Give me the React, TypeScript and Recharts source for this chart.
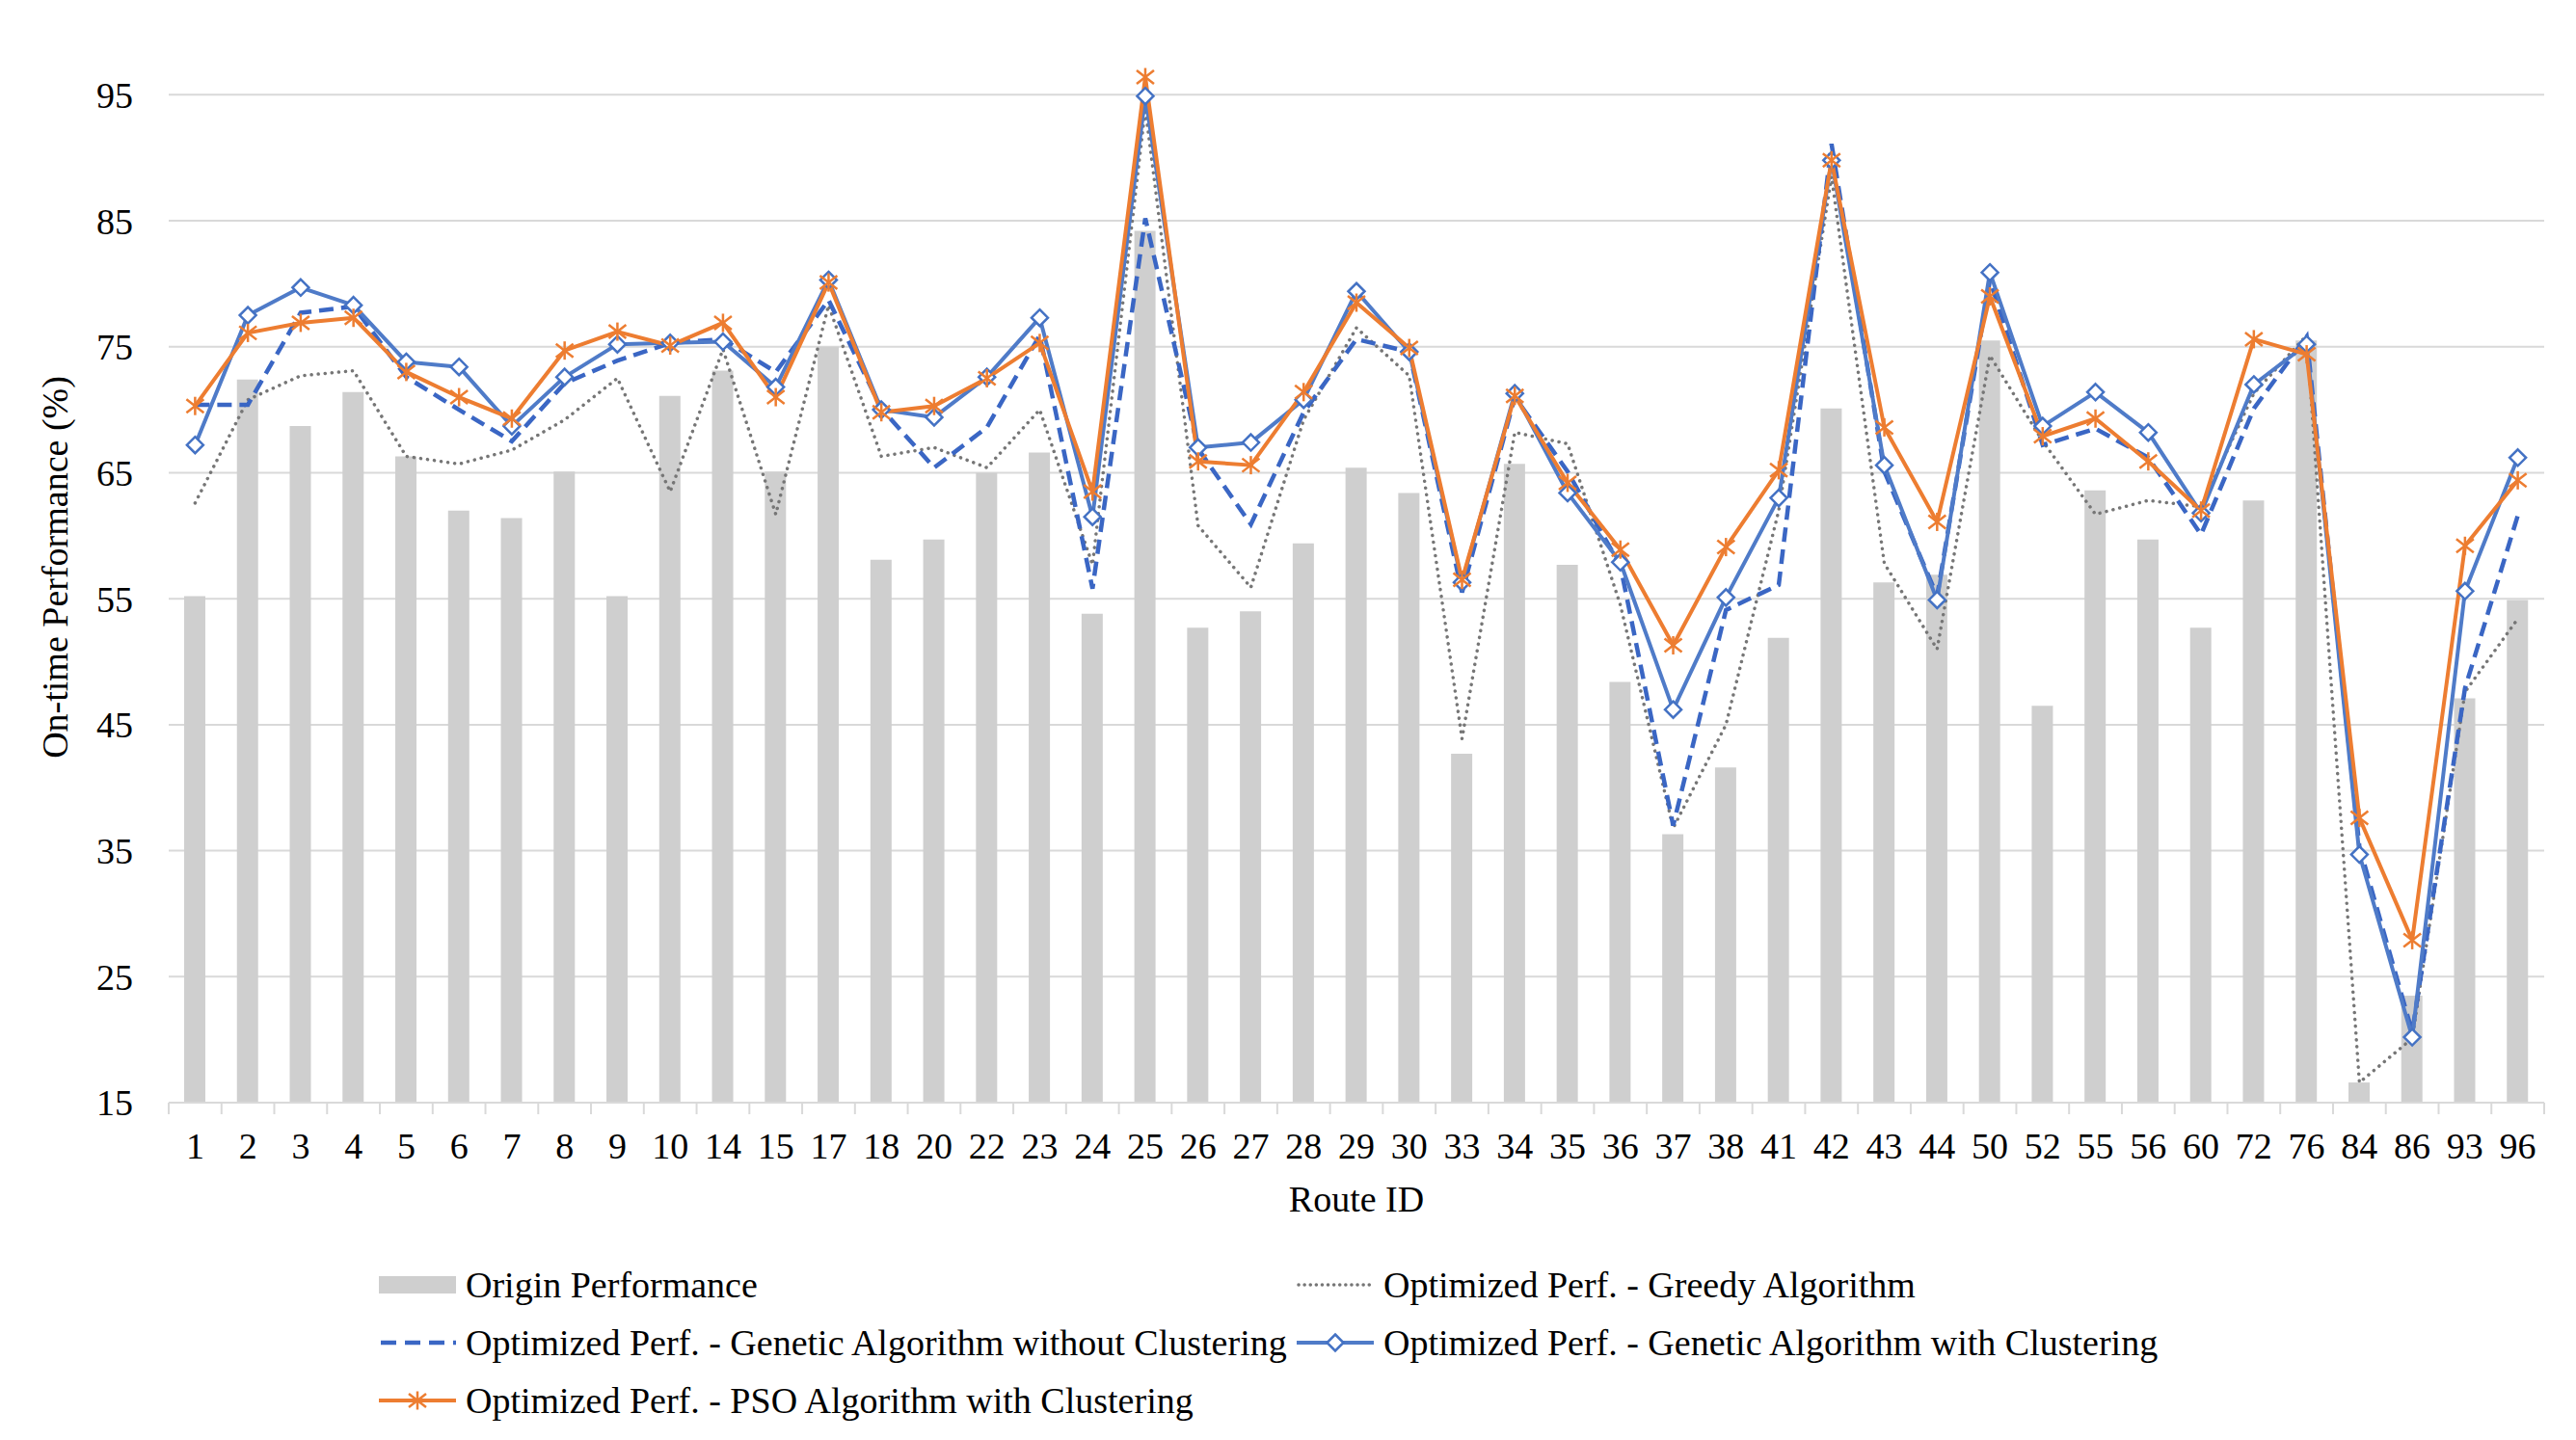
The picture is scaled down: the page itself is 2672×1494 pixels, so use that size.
import React from "react";
import {
  ComposedChart,
  Bar,
  Line,
  XAxis,
  YAxis,
  CartesianGrid,
  Legend,
} from "recharts";

const routes = [
  "1", "2", "3", "4", "5", "6", "7", "8", "9", "10", "14", "15", "17", "18", "20",
  "22", "23", "24", "25", "26", "27", "28", "29", "30", "33", "34", "35", "36", "37", "38",
  "41", "42", "43", "44", "50", "52", "55", "56", "60", "72", "76", "84", "86", "93", "96",
];

const originPerf = [
  55.2, 72.4, 68.7, 71.4, 66.3, 62.0, 61.4, 65.1, 55.2, 71.1, 73.1, 65.1, 75.0, 58.1, 59.7,
  65.0, 66.6, 53.8, 84.2, 52.7, 54.0, 59.4, 65.4, 63.4, 42.7, 65.7, 57.7, 48.4, 36.3, 41.6,
  51.9, 70.1, 56.3, 56.9, 75.5, 46.5, 63.6, 59.7, 52.7, 62.8, 75.5, 16.6, 23.5, 47.1, 54.9,
];

const greedy = [
  62.6, 70.8, 72.7, 73.1, 66.3, 65.7, 66.8, 69.2, 72.5, 63.5, 74.8, 61.7, 78.3, 66.3, 67.0,
  65.4, 70.0, 57.7, 93.9, 60.8, 55.9, 69.2, 76.5, 72.7, 43.9, 68.2, 67.3, 54.5, 36.8, 45.0,
  62.0, 88.5, 57.8, 51.0, 74.3, 67.5, 61.7, 62.8, 62.3, 71.3, 75.9, 16.6, 20.1, 47.6, 53.4,
];

const gaNoCluster = [
  70.4, 70.4, 77.7, 78.2, 72.6, 70.0, 67.5, 72.1, 73.9, 75.3, 75.6, 73.0, 78.7, 70.1, 65.4,
  68.6, 75.9, 55.8, 85.2, 66.9, 60.9, 69.8, 75.6, 74.6, 55.5, 71.0, 65.1, 57.6, 37.0, 54.1,
  56.1, 91.1, 65.1, 55.2, 80.3, 67.2, 68.5, 66.2, 60.1, 70.1, 75.8, 35.3, 20.6, 47.9, 61.6,
];

const gaCluster = [
  67.2, 77.5, 79.7, 78.3, 73.8, 73.4, 68.7, 72.6, 75.2, 75.3, 75.4, 71.8, 80.3, 70.0, 69.4,
  72.6, 77.3, 61.5, 94.9, 67.0, 67.4, 70.8, 79.4, 74.6, 56.3, 71.3, 63.4, 57.9, 46.2, 55.1,
  63.0, 89.8, 65.6, 54.9, 80.9, 68.7, 71.4, 68.2, 61.8, 72.0, 75.2, 34.7, 20.2, 55.6, 66.2,
];

const psoCluster = [
  70.3, 76.1, 76.9, 77.3, 73.0, 71.0, 69.3, 74.7, 76.2, 75.1, 76.9, 71.0, 80.1, 69.8, 70.3,
  72.5, 75.3, 63.5, 96.4, 65.9, 65.6, 71.4, 78.5, 74.9, 56.5, 71.1, 64.2, 58.9, 51.3, 59.1,
  65.2, 89.8, 68.6, 61.1, 79.0, 67.9, 69.3, 65.9, 62.0, 75.6, 74.4, 37.6, 27.9, 59.2, 64.4,
];

const yTicks = [15, 25, 35, 45, 55, 65, 75, 85, 95];

const SERIES = [
  { key: "origin", name: "Origin Performance" },
  { key: "greedy", name: "Optimized Perf. - Greedy Algorithm" },
  { key: "gaNo", name: "Optimized Perf. - Genetic Algorithm without Clustering" },
  { key: "ga", name: "Optimized Perf. - Genetic Algorithm with Clustering" },
  { key: "pso", name: "Optimized Perf. - PSO Algorithm with Clustering" },
];

const data = routes.map((route, i) => ({
  route,
  origin: originPerf[i],
  greedy: greedy[i],
  gaNo: gaNoCluster[i],
  ga: gaCluster[i],
  pso: psoCluster[i],
}));

const W = 2672;
const H = 1494;
const MARGIN = { top: 33, right: 33, bottom: 230, left: 45 };
const Y_AXIS_W = 130;
const X_AXIS_H = 120;
const BAND = (W - MARGIN.left - Y_AXIS_W - MARGIN.right) / routes.length;

const FONT = "'Liberation Serif', 'Times New Roman', 'DejaVu Serif', serif";
const FS = 38;
const GRID = "#d9d9d9";
const BAR = "#cfcfcf";
const GRAY = "#767676";
const BLUE_DASH = "#3a66c4";
const BLUE = "#4f7bc8";
const ORANGE = "#ed7d31";

function diamondShape(cx: number, cy: number, key?: string) {
  const r = 8.5;
  return (
    <path
      key={key}
      d={`M${cx},${cy - r}L${cx + r},${cy}L${cx},${cy + r}L${cx - r},${cy}Z`}
      fill="#fff"
      stroke="#4472c4"
      strokeWidth={2.5}
    />
  );
}

function starShape(cx: number, cy: number, key?: string) {
  return (
    <g key={key} stroke={ORANGE} strokeWidth={2.5}>
      <line x1={cx} y1={cy - 9.5} x2={cx} y2={cy + 9.5} />
      <line x1={cx - 9} y1={cy - 7} x2={cx + 9} y2={cy + 7} />
      <line x1={cx - 9} y1={cy + 7} x2={cx + 9} y2={cy - 7} />
    </g>
  );
}

const renderDiamond = (p: any) =>
  p.cx == null ? null : diamondShape(p.cx, p.cy, `dia-${p.index}`);
const renderStar = (p: any) =>
  p.cx == null ? null : starShape(p.cx, p.cy, `star-${p.index}`);

// category labels centred, tick marks on the category boundaries (excel style)
function RouteTick(props: any) {
  const { x, y, payload, index } = props;
  const left = x - BAND / 2;
  const right = x + BAND / 2;
  return (
    <g>
      <line x1={left} y1={y} x2={left} y2={y + 12} stroke={GRID} strokeWidth={2} />
      {index === routes.length - 1 && (
        <line x1={right} y1={y} x2={right} y2={y + 12} stroke={GRID} strokeWidth={2} />
      )}
      <text x={x} y={y + 58} textAnchor="middle" fontSize={FS} fontFamily={FONT} fill="#000">
        {payload.value}
      </text>
    </g>
  );
}

function Swatch({ kind }: { kind: string }) {
  return (
    <svg width={80} height={30} style={{ display: "block", flex: "none" }}>
      {kind === "origin" && <rect x={0} y={6} width={80} height={18} fill={BAR} />}
      {kind === "greedy" && (
        <line x1={2} y1={15} x2={78} y2={15} stroke={GRAY} strokeWidth={3.5}
          strokeDasharray="0.1 6" strokeLinecap="round" />
      )}
      {kind === "gaNo" && (
        <line x1={2} y1={15} x2={80} y2={15} stroke={BLUE_DASH} strokeWidth={4.5}
          strokeDasharray="16 9" />
      )}
      {kind === "ga" && (
        <>
          <line x1={0} y1={15} x2={80} y2={15} stroke={BLUE} strokeWidth={4} />
          {diamondShape(40, 15)}
        </>
      )}
      {kind === "pso" && (
        <>
          <line x1={0} y1={15} x2={80} y2={15} stroke={ORANGE} strokeWidth={4} />
          {starShape(40, 15)}
        </>
      )}
    </svg>
  );
}

function renderLegend() {
  return (
    <div style={{ position: "relative", width: W, height: 180, fontFamily: FONT, fontSize: FS, color: "#000" }}>
      {SERIES.map((s, i) => (
        <div
          key={s.key}
          style={{
            position: "absolute",
            left: i % 2 ? 1345 : 393,
            top: Math.floor(i / 2) * 60,
            height: 60,
            display: "flex",
            alignItems: "center",
            whiteSpace: "nowrap",
            lineHeight: 1,
          }}
        >
          <Swatch kind={s.key} />
          <span style={{ marginLeft: 10 }}>{s.name}</span>
        </div>
      ))}
    </div>
  );
}

export default function App() {
  return (
    <div style={{ width: W, height: H, background: "#fff" }}>
      <style>{"body{margin:0;overflow:hidden;background:#fff}"}</style>
      <ComposedChart width={W} height={H} data={data} margin={MARGIN}>
        <CartesianGrid
          vertical={false}
          horizontalValues={yTicks}
          syncWithTicks
          stroke={GRID}
          strokeWidth={2}
        />
        <XAxis
          dataKey="route"
          interval={0}
          height={X_AXIS_H}
          tickLine={false}
          tickSize={0}
          tickMargin={0}
          axisLine={{ stroke: GRID, strokeWidth: 2 }}
          tick={<RouteTick />}
          label={{
            value: "Route ID",
            position: "insideBottom",
            offset: 7,
            style: { fontSize: FS, fontFamily: FONT, fill: "#000" },
          }}
        />
        <YAxis
          domain={[15, 100]}
          ticks={yTicks}
          width={Y_AXIS_W}
          axisLine={false}
          tickLine={false}
          tickSize={0}
          tickMargin={37}
          tick={{ fontSize: FS, fontFamily: FONT, fill: "#000" }}
          label={{
            value: "On-time Performance (%)",
            angle: -90,
            position: "insideLeft",
            offset: 12,
            style: { textAnchor: "middle", fontSize: FS, fontFamily: FONT, fill: "#000" },
          }}
        />
        <Legend
          content={renderLegend}
          layout="horizontal"
          verticalAlign="middle"
          align="center"
          wrapperStyle={{ left: 0, top: 1303, width: W, height: 180 }}
        />
        <Bar dataKey="origin" name={SERIES[0].name} fill={BAR} barSize={22} isAnimationActive={false} />
        <Line
          dataKey="greedy"
          name={SERIES[1].name}
          type="linear"
          stroke={GRAY}
          strokeWidth={3.5}
          strokeDasharray="0.1 7"
          strokeLinecap="round"
          strokeLinejoin="round"
          dot={false}
          activeDot={false}
          isAnimationActive={false}
        />
        <Line
          dataKey="gaNo"
          name={SERIES[2].name}
          type="linear"
          stroke={BLUE_DASH}
          strokeWidth={4.5}
          strokeDasharray="15 8"
          dot={false}
          activeDot={false}
          isAnimationActive={false}
        />
        <Line
          dataKey="ga"
          name={SERIES[3].name}
          type="linear"
          stroke={BLUE}
          strokeWidth={4}
          strokeLinejoin="round"
          dot={renderDiamond}
          activeDot={false}
          isAnimationActive={false}
        />
        <Line
          dataKey="pso"
          name={SERIES[4].name}
          type="linear"
          stroke={ORANGE}
          strokeWidth={4}
          strokeLinejoin="round"
          dot={renderStar}
          activeDot={false}
          isAnimationActive={false}
        />
      </ComposedChart>
    </div>
  );
}
